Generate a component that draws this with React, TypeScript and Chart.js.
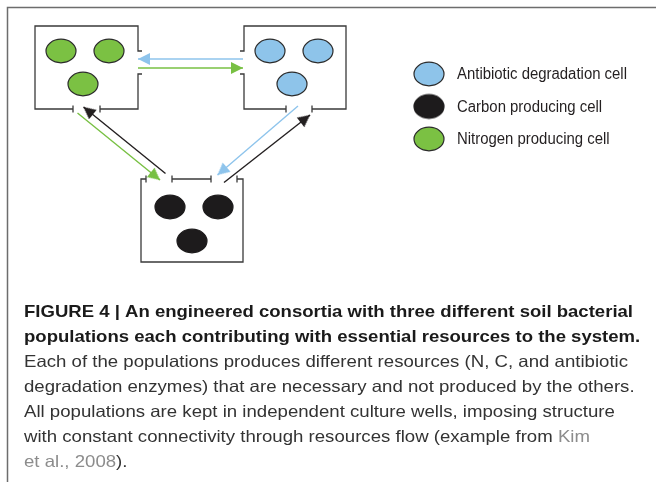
import React, { useEffect, useRef } from "react";
import { Chart, registerables } from "chart.js";

Chart.register(...registerables);

type P = [number, number];

// ---- diagram data (pixel-space coordinates on a 656 x 482 canvas, y downward) ----
const framePath: P[] = [[7.5, 482], [7.5, 7.5], [656, 7.5]];

const wellWalls: P[][] = [
  // nitrogen well (top left)
  [[142, 51], [138, 51], [138, 26], [35, 26], [35, 109], [73, 109]],
  [[100, 109], [138, 109], [138, 74], [142, 74]],
  // antibiotic well (top right)
  [[240, 51], [244, 51], [244, 26], [346, 26], [346, 109], [312, 109]],
  [[286, 109], [244, 109], [244, 74], [240, 74]],
  // carbon well (bottom)
  [[146, 179], [141, 179], [141, 262], [243, 262], [243, 179], [237, 179]],
  [[172, 179], [211, 179]],
];

const wellTicks: P[][] = [
  [[73, 105.5], [73, 112.5]],
  [[100, 105.5], [100, 112.5]],
  [[286, 105.5], [286, 112.5]],
  [[312, 105.5], [312, 112.5]],
  [[146, 175.5], [146, 182.5]],
  [[172, 175.5], [172, 182.5]],
  [[211, 175.5], [211, 182.5]],
  [[237, 175.5], [237, 182.5]],
];

const nitrogenCells: P[] = [[61, 51], [109, 51], [83, 84]];
const antibioticCells: P[] = [[270, 51], [318, 51], [292, 84]];
const carbonCells: P[] = [[170, 207], [218, 207], [192, 241]];

const legendLabels = ["Antibiotic degradation cell", "Carbon producing cell", "Nitrogen producing cell"];
const legendKinds = ["antibiotic", "carbon", "nitrogen"];
const legendMarkers: P[] = [[429, 74], [429, 106.5], [429, 139]];
const legendTextX = 457;

const arrowFrom: P[] = [[243, 59], [138, 68], [77.5, 113], [165.5, 173.5], [298, 106], [224, 182.5]];
const arrowTip: P[] = [[138, 59], [243, 68], [160, 180], [83.5, 107], [217.5, 175], [310, 115]];
const arrowKinds = ["antibiotic", "nitrogen", "nitrogen", "carbon", "antibiotic", "carbon"];

const captionBold = [
  "FIGURE 4 | An engineered consortia with three different soil bacterial",
  "populations each contributing with essential resources to the system.",
];
const captionNormal: [string, boolean][][] = [
  [["Each of the populations produces different resources (N, C, and antibiotic", false]],
  [["degradation enzymes) that are necessary and not produced by the others.", false]],
  [["All populations are kept in independent culture wells, imposing structure", false]],
  [["with constant connectivity through resources flow (example from ", false], ["Kim", true]],
  [["et al., 2008", true], [").", false]],
];
const captionBoldBaselines = [317.3, 342.3];
const captionNormalBaselines = [366.5, 391.5, 416.7, 441.9, 467];

// ---- styles ----
const cellFill: Record<string, string> = {
  antibiotic: "#8ec4ea",
  carbon: "#1d1b1c",
  nitrogen: "#7bc143",
};
const cellStroke: Record<string, string> = {
  antibiotic: "#2b2b2b",
  carbon: "#1d1b1c",
  nitrogen: "#2b2b2b",
};
const arrowColor: Record<string, string> = {
  antibiotic: "#8ec4ec",
  carbon: "#231f20",
  nitrogen: "#78c043",
};
const FONT = "'Liberation Sans', Arial, Helvetica, sans-serif";

function makeEllipse(fill: string, stroke: string): HTMLCanvasElement {
  const c = document.createElement("canvas");
  c.width = 34;
  c.height = 28;
  const g = c.getContext("2d")!;
  g.beginPath();
  g.ellipse(17, 14, 15, 11.8, 0, 0, Math.PI * 2);
  g.fillStyle = fill;
  g.fill();
  g.lineWidth = 1.2;
  g.strokeStyle = stroke;
  g.stroke();
  return c;
}

function makeArrowHead(color: string): HTMLCanvasElement {
  const len = 12;
  const half = 6;
  const c = document.createElement("canvas");
  c.width = Math.ceil(2 * len + 2);
  c.height = Math.ceil(2 * half + 2);
  const g = c.getContext("2d")!;
  const cx = c.width / 2;
  const cy = c.height / 2;
  g.beginPath();
  g.moveTo(cx, cy);
  g.lineTo(cx - len, cy - half);
  g.lineTo(cx - len, cy + half);
  g.closePath();
  g.fillStyle = color;
  g.fill();
  return c;
}

const toXY = (pts: P[]) => pts.map(([x, y]) => ({ x, y }));

export default function App() {
  const ref = useRef<HTMLCanvasElement | null>(null);

  useEffect(() => {
    if (!ref.current) return;
    document.body.style.margin = "0";

    const datasets: any[] = [];
    const lineDs = (pts: P[], color: string, width: number) => ({
      data: toXY(pts),
      showLine: true,
      borderColor: color,
      borderWidth: width,
      pointRadius: 0,
      fill: false,
      tension: 0,
    });

    datasets.push(lineDs(framePath, "#6d6d6d", 1.5));
    wellWalls.forEach((w) => datasets.push(lineDs(w, "#3a3a3a", 1.3)));
    wellTicks.forEach((w) => datasets.push(lineDs(w, "#3a3a3a", 1.3)));

    arrowFrom.forEach((from, i) => {
      const tip = arrowTip[i];
      const kind = arrowKinds[i];
      const ang = (Math.atan2(tip[1] - from[1], tip[0] - from[0]) * 180) / Math.PI;
      datasets.push({
        data: toXY([from, tip]),
        showLine: true,
        borderColor: arrowColor[kind],
        borderWidth: 1.4,
        pointRadius: [0, 6],
        pointStyle: makeArrowHead(arrowColor[kind]),
        rotation: [0, ang],
        fill: false,
        tension: 0,
      });
    });

    const cellDs = (pts: P[], kind: string) => ({
      data: toXY(pts),
      showLine: false,
      pointRadius: 12,
      pointStyle: makeEllipse(cellFill[kind], cellStroke[kind]),
    });
    datasets.push(cellDs(nitrogenCells, "nitrogen"));
    datasets.push(cellDs(antibioticCells, "antibiotic"));
    datasets.push(cellDs(carbonCells, "carbon"));
    legendMarkers.forEach((m, i) => datasets.push(cellDs([m], legendKinds[i])));

    const textPlugin = {
      id: "diagramText",
      afterDraw(chart: any) {
        const ctx: CanvasRenderingContext2D = chart.ctx;
        const xs = chart.scales.x;
        const ys = chart.scales.y;
        ctx.save();
        // legend labels
        ctx.font = `16px ${FONT}`;
        ctx.fillStyle = "#231f20";
        ctx.textBaseline = "middle";
        ctx.textAlign = "left";
        const lsx = 170 / ctx.measureText(legendLabels[0]).width;
        legendLabels.forEach((lab, i) => {
          ctx.save();
          ctx.translate(xs.getPixelForValue(legendTextX), ys.getPixelForValue(legendMarkers[i][1] + 1));
          ctx.scale(lsx, 1);
          ctx.fillText(lab, 0, 0);
          ctx.restore();
        });

        ctx.textBaseline = "alphabetic";
        const left = xs.getPixelForValue(24);
        // bold caption
        ctx.font = `bold 16.5px ${FONT}`;
        const bsx = 609 / ctx.measureText(captionBold[0]).width;
        ctx.fillStyle = "#1a1a1a";
        captionBold.forEach((line, i) => {
          ctx.save();
          ctx.translate(left, ys.getPixelForValue(captionBoldBaselines[i]));
          ctx.scale(bsx, 1);
          ctx.fillText(line, 0, 0);
          ctx.restore();
        });
        // normal caption
        ctx.font = `16.5px ${FONT}`;
        const nsx = 604 / ctx.measureText(captionNormal[0][0][0]).width;
        captionNormal.forEach((parts, i) => {
          ctx.save();
          ctx.translate(left, ys.getPixelForValue(captionNormalBaselines[i]));
          ctx.scale(nsx, 1);
          let x = 0;
          parts.forEach(([t, gray]) => {
            ctx.fillStyle = gray ? "#8c8c8c" : "#333333";
            ctx.fillText(t, x, 0);
            x += ctx.measureText(t).width;
          });
          ctx.restore();
        });
        ctx.restore();
      },
    };

    const chart = new Chart(ref.current, {
      type: "scatter",
      data: { datasets },
      options: {
        animation: false,
        responsive: false,
        maintainAspectRatio: false,
        events: [],
        layout: { padding: 0, autoPadding: false },
        plugins: { legend: { display: false }, tooltip: { enabled: false }, title: { display: false } },
        scales: {
          x: { type: "linear", min: 0, max: 656, display: false },
          y: { type: "linear", min: 0, max: 482, reverse: true, display: false },
        },
      },
      plugins: [textPlugin],
    });
    return () => chart.destroy();
  }, []);

  return (
    <div style={{ position: "absolute", left: 0, top: 0, width: 656, height: 482, background: "#ffffff" }}>
      <canvas ref={ref} width={656} height={482} />
    </div>
  );
}
